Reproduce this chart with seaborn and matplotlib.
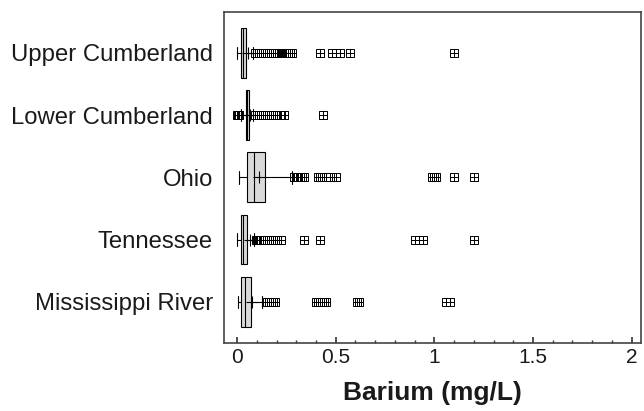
import numpy as np
import pandas as pd
import matplotlib
matplotlib.use("Agg")
import matplotlib.pyplot as plt
from matplotlib.path import Path
from matplotlib.ticker import MultipleLocator
import seaborn as sns

sites = ["Upper Cumberland", "Lower Cumberland", "Ohio", "Tennessee", "Mississippi River"]

upper_cumb_values = [0.0, 0.01, 0.02, 0.025, 0.03, 0.038, 0.045, 0.06, 0.08,
                     0.09, 0.10, 0.11, 0.12, 0.13, 0.14, 0.15, 0.16, 0.17, 0.18,
                     0.21, 0.22, 0.23, 0.24, 0.25, 0.26, 0.27, 0.28,
                     0.42, 0.48, 0.50, 0.52, 0.57, 1.10]
upper_cumb_counts = [1, 50, 40, 30, 30, 30, 30, 29, 1] + [1] * 24

lower_cumb_values = [0.0, 0.005, 0.01, 0.02, 0.035, 0.045, 0.05, 0.062, 0.07, 0.08,
                     0.09, 0.10, 0.11, 0.12, 0.13, 0.14, 0.15, 0.16, 0.17, 0.18, 0.19,
                     0.22, 0.24, 0.435]
lower_cumb_counts = [1, 1, 1, 1, 15, 20, 25, 25, 9, 1] + [1] * 14

ohio_values = [0.01, 0.03, 0.049, 0.07, 0.086, 0.10, 0.142, 0.17, 0.28,
               0.29, 0.30, 0.305, 0.31, 0.32, 0.33, 0.34,
               0.41, 0.42, 0.45, 0.47, 0.50, 0.99, 1.00, 1.01, 1.10, 1.20]
ohio_counts = [1, 60, 40, 20, 40, 25, 30, 20, 1] + [1] * 17

tennessee_values = [0.0, 0.01, 0.02, 0.03, 0.048, 0.065, 0.085,
                    0.095, 0.10, 0.11, 0.12, 0.13, 0.14, 0.15, 0.16, 0.17, 0.18, 0.19, 0.20, 0.22,
                    0.34, 0.42, 0.90, 0.92, 0.94, 1.20]
tennessee_counts = [1, 30, 40, 40, 50, 20, 1] + [1] * 19

mississippi_values = [0.005, 0.01, 0.018, 0.03, 0.042, 0.055, 0.07, 0.10, 0.128,
                      0.15, 0.16, 0.17, 0.18, 0.19,
                      0.40, 0.41, 0.42, 0.43, 0.44, 0.45, 0.61, 0.62, 1.06, 1.08]
mississippi_counts = [1, 25, 30, 20, 25, 20, 20, 16, 1] + [1] * 15

values_by_site = [upper_cumb_values, lower_cumb_values, ohio_values, tennessee_values, mississippi_values]
counts_by_site = [upper_cumb_counts, lower_cumb_counts, ohio_counts, tennessee_counts, mississippi_counts]

rows = []
for site, vals, cnts in zip(sites, values_by_site, counts_by_site):
    for v, c in zip(vals, cnts):
        rows.extend([(site, v)] * c)
df = pd.DataFrame(rows, columns=["site", "barium"])

sns.set_theme(style="white")
plt.rcParams["font.family"] = ["Liberation Sans", "DejaVu Sans"]
text_color = "#1a1a1a"

# square-with-cross flier marker
verts = [(-1, -1), (1, -1), (1, 1), (-1, 1), (-1, -1), (0, -1), (0, 1), (-1, 0), (1, 0)]
codes = [Path.MOVETO, Path.LINETO, Path.LINETO, Path.LINETO, Path.CLOSEPOLY,
         Path.MOVETO, Path.LINETO, Path.MOVETO, Path.LINETO]
sq_cross = Path(verts, codes)

fig, ax = plt.subplots(figsize=(6.44, 4.11), dpi=100)
fig.subplots_adjust(left=0.348, right=0.996, top=0.971, bottom=0.166)

sns.boxplot(data=df, x="barium", y="site", order=sites, orient="h", ax=ax,
            color="#d9d9d9", linecolor="black", linewidth=0.8, width=0.8,
            showmeans=True,
            meanprops=dict(marker="+", markeredgecolor="black", markerfacecolor="black",
                           markersize=8, markeredgewidth=0.8),
            flierprops=dict(marker=sq_cross, markersize=6.3, markeredgecolor="black",
                            markerfacecolor="none", markeredgewidth=0.7),
            capwidths=0.2)

ax.set_xlim(-0.066, 2.05)
ax.set_ylim(4.66, -0.66)
ax.xaxis.set_major_locator(MultipleLocator(0.5))
ax.xaxis.set_minor_locator(MultipleLocator(0.1))
ax.set_xticks([0, 0.5, 1, 1.5, 2])
ax.set_xticklabels(["0", "0.5", "1", "1.5", "2"])
ax.tick_params(axis="x", which="major", direction="in", length=4, width=1.2,
               bottom=True, top=False, labelsize=15, labelcolor=text_color, pad=4, color="#333333")
ax.tick_params(axis="x", which="minor", direction="in", length=2.5, width=1.0,
               bottom=True, top=False, color="#333333")
ax.tick_params(axis="y", length=0, labelsize=17.2, labelcolor=text_color, pad=8)

ax.set_ylabel("")
ax.set_xlabel("Barium (mg/L)", fontsize=19, fontweight="bold", color=text_color, labelpad=10)

for s in ax.spines.values():
    s.set_visible(True)
    s.set_color("#444444")
    s.set_linewidth(1.2)

fig.savefig("out.png", dpi=100)
